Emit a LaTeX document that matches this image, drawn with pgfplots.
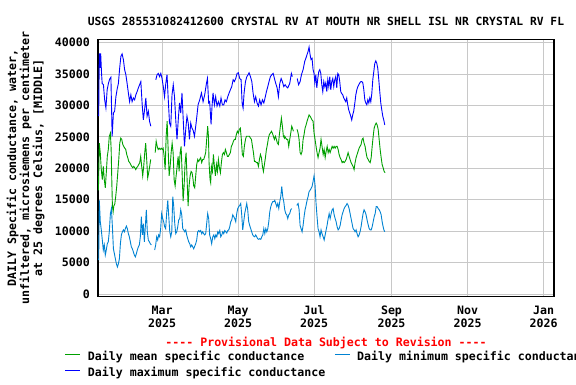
\documentclass[border=0pt]{standalone}
\usepackage{fontspec}
\setmainfont{DejaVu Sans Mono}
\usepackage{pgfplots}
\pgfplotsset{compat=1.18}
\definecolor{cmean}{RGB}{0,160,0}
\definecolor{cmin}{RGB}{0,130,210}
\definecolor{cmax}{RGB}{0,0,255}
\definecolor{gridc}{RGB}{200,200,200}
\newcommand{\f}{\fontsize{11.6pt}{13pt}\selectfont\bfseries}
\newcommand{\ft}{\fontsize{11.3pt}{13pt}\selectfont\bfseries}
\begin{document}
\begin{tikzpicture}[x=1pt,y=1pt]
\path[use as bounding box] (0,0) rectangle (576,384);
\begin{axis}[
 at={(98pt,87.5pt)}, anchor=south west,
 scale only axis, width=456pt, height=257pt,
 clip mode=individual,
 xmin=7.65, xmax=373.3, ymin=-400, ymax=40500,
 xtick={59,120,181,243,304,365},
 xticklabels={Mar\\2025,May\\2025,Jul\\2025,Sep\\2025,Nov\\2025,Jan\\2026},
 xticklabel style={align=center, font=\f, yshift=-6pt},
 ytick={0,5000,10000,15000,20000,25000,30000,35000,40000},
 yticklabel style={font=\f, inner xsep=0pt, xshift=-8pt},
 scaled y ticks=false,
 yticklabel={\pgfmathprintnumber[1000 sep={},assume math mode=true]{\tick}},
 grid=major, major grid style={gridc, line width=0.8pt},
 major tick length=0pt,
 axis line style={line width=1.4pt},
 unbounded coords=jump,
 ylabel={DAILY Specific conductance, water,\\unfiltered, microsiemens per centimeter\\at 25 degrees Celsius, [MIDDLE]},
 ylabel style={at={(axis description cs:-0.159,0.5)}, anchor=center, align=center, font=\f},
 legend style={at={(axis description cs:-0.0724,-0.216)}, anchor=north west, draw=none, fill=none, inner sep=0pt, outer sep=0pt, row sep=5pt, font=\f, nodes={inner xsep=0pt, inner ysep=0pt, text height=8.5pt, text depth=2.5pt}, /tikz/every odd column/.append style={column sep=7pt}, /tikz/every even column/.append style={column sep=9pt}},
 legend columns=2, legend cell align=left,
 legend image code/.code={\draw[#1] (0pt,3pt) -- (15pt,3pt);},
]
% Daily mean
\addplot[cmean, line width=0.9pt] coordinates {
(8.0,16500)(8.7,24000)(9.5,22400)(10.3,19800)(11.1,18200)(11.9,20300)(12.7,18200)(13.5,16900)(14.3,19300)(15.1,21900)(15.9,23000)(16.7,25100)(17.6,25600)(18.2,23000)(18.7,18200)(19.2,14000)(19.8,13100)(20.3,14000)(21.1,14300)(21.9,15600)(22.7,17200)(23.5,19300)(24.3,21400)(25.1,24000)(25.9,24800)(26.7,24600)(27.5,23800)(28.3,23500)(29.1,23200)(29.9,23000)(30.7,22200)(31.5,21700)(32.3,21100)(33.1,20900)(33.9,20600)(34.7,20300)(35.5,20100)(36.3,20300)(37.1,20100)(37.9,19800)(38.7,20100)(39.5,20300)(40.3,20600)(41.1,20900)(41.9,21900)(42.7,20300)(43.5,18800)(44.3,20300)(45.1,22400)(45.9,24000)(46.7,21400)(47.5,18500)(48.3,19300)(49.1,20300)(49.9,21400)(51.5,nan)
(53.5,22500)(54.3,24300)(55.1,23500)(55.9,23000)(56.7,23200)(57.5,23000)(58.3,23200)(59.1,23000)(59.9,23200)(60.7,21900)(61.5,19800)(62.3,25100)(63.1,27500)(63.9,23000)(64.7,18800)(65.5,20300)(66.3,22500)(67.1,24000)(67.9,22500)(68.7,18200)(69.5,17200)(70.3,18800)(71.1,20300)(71.9,21900)(72.7,19500)(73.5,22500)(74.3,23500)(75.1,19300)(75.9,14800)(76.7,17200)(77.5,20900)(78.3,22500)(79.1,18200)(79.9,14000)(80.7,17200)(81.5,18800)(82.3,19500)(83.1,19300)(83.9,18200)(84.4,17200)(85.2,16900)(86.0,18800)(86.8,20600)(87.6,21400)(88.4,21100)(89.2,21400)(90.0,21700)(90.8,20900)(91.6,21400)(92.4,21400)(93.2,21900)(94.0,22500)(94.8,24600)(95.6,26700)(96.2,25100)(96.7,20900)(97.5,18200)(98.0,17700)(98.6,20300)(99.4,19500)(100.2,22200)(101.0,20300)(101.8,18800)(102.6,20600)(103.4,19500)(104.2,21400)(105.0,20100)(105.8,19300)(106.6,20900)(107.4,22200)(108.2,22500)(109.0,22200)(109.8,23000)(110.6,22500)(111.4,21900)(112.2,21900)(113.0,22200)(113.8,22500)(114.6,23500)(115.4,23800)(116.2,24300)(117.0,24600)(117.8,24600)(118.6,25400)(119.4,25900)(120.2,25600)(121.0,26200)(121.8,26400)(122.6,24600)(123.4,22200)(124.2,21900)(125.0,23500)(125.9,24600)(126.7,25100)(127.5,25100)(128.3,25100)(129.1,25100)(129.9,24800)(130.7,24600)(131.5,23500)(132.3,22500)(133.1,21100)(133.9,21100)(134.7,20900)(135.5,20900)(136.3,20300)(137.1,21400)(137.9,22200)(138.7,21700)(139.5,20300)(140.3,19500)(141.1,20600)(141.9,21700)(142.7,23000)(143.5,23800)(144.3,24800)(145.1,25400)(145.9,25600)(146.7,25900)(147.5,25600)(148.3,25100)(149.1,24600)(149.9,25100)(150.7,24600)(151.5,24000)(152.3,23800)(153.1,25400)(153.9,26700)(154.7,28000)(155.5,26700)(156.3,25100)(157.1,24800)(157.4,25100)(158.2,24800)(159.0,24600)(159.8,24600)(160.6,23500)(161.4,24600)(162.2,25600)(163.0,26700)(163.6,26400)(164.3,25900)(165.5,nan)
(167.3,26200)(168.1,25600)(168.9,24600)(169.7,22500)(170.5,22200)(171.3,22700)(172.1,24600)(172.9,25400)(173.7,26400)(174.5,26900)(175.3,27500)(176.1,28000)(176.9,28500)(177.7,28300)(178.5,28000)(179.3,27700)(180.1,27500)(180.9,25600)(181.7,24600)(182.5,23500)(183.3,22500)(184.1,21700)(184.9,22500)(185.7,23200)(186.5,24600)(187.3,23500)(188.2,22200)(189.0,23000)(189.8,21700)(190.6,22700)(191.4,23500)(192.2,22500)(193.0,23000)(193.8,22500)(194.6,23000)(195.4,23500)(196.2,23200)(197.0,23500)(197.8,23200)(198.6,23500)(199.4,23500)(200.2,23000)(201.0,22200)(201.8,21700)(202.6,21400)(203.4,20900)(204.2,21100)(205.0,20900)(205.8,21100)(206.6,21400)(207.4,21900)(208.2,22500)(209.0,21900)(209.8,21400)(210.6,20900)(211.4,20600)(212.2,20300)(213.0,19800)(213.8,20900)(214.6,21700)(215.4,22200)(216.2,22700)(217.0,23200)(217.8,23500)(218.6,23800)(219.4,24600)(220.2,24800)(221.0,24000)(221.8,23500)(222.6,22500)(223.4,21700)(224.3,21400)(225.1,21100)(225.9,20900)(226.7,21700)(227.5,23500)(228.3,25100)(229.1,26400)(229.9,26900)(230.7,27200)(231.5,26900)(232.3,26200)(233.1,24600)(233.9,23000)(234.7,21700)(235.5,20600)(236.3,20100)(237.1,19500)(237.9,19300)
};
\addlegendentry{Daily mean specific conductance}
% Daily minimum
\addplot[cmin, line width=0.9pt] coordinates {
(8.2,5400)(8.7,14900)(9.5,11500)(10.3,10200)(11.1,8600)(11.9,7000)(12.7,7800)(13.5,6200)(14.3,7000)(15.1,8000)(15.9,8300)(16.7,9900)(17.6,12800)(18.4,13600)(19.2,10700)(20.0,7200)(20.8,6400)(21.6,5600)(22.4,4800)(23.2,4300)(24.0,4800)(24.8,5600)(25.6,8000)(26.4,9400)(27.2,9900)(28.0,10200)(28.8,9900)(29.6,10400)(30.4,10800)(31.2,10400)(32.0,9600)(32.8,9100)(33.6,8300)(34.4,7500)(35.2,7200)(36.0,6700)(36.8,6200)(37.6,5900)(38.4,6400)(39.2,7000)(40.0,7500)(40.8,7800)(41.6,9100)(42.4,12300)(43.2,9400)(44.0,11200)(44.8,8300)(45.6,10700)(46.4,13400)(47.2,9900)(48.0,8600)(48.8,8300)(49.6,8000)(50.4,7800)(51.5,nan)
(53.1,7000)(53.9,7800)(54.7,9100)(55.5,8600)(56.3,9400)(57.1,9100)(57.9,10400)(58.7,12800)(59.5,12000)(60.3,11500)(61.1,10700)(61.9,10400)(62.7,12800)(63.6,14900)(64.4,12300)(65.2,9900)(66.0,9100)(66.8,9900)(67.6,15500)(68.4,13900)(69.2,11200)(70.0,9600)(70.8,9900)(71.6,10700)(72.4,11800)(73.2,12000)(74.0,13400)(74.8,12600)(75.6,10400)(76.4,10200)(77.2,9900)(78.0,10200)(78.8,9400)(79.6,8800)(80.4,8300)(81.2,8000)(82.0,7500)(82.8,7800)(83.6,7500)(84.4,7200)(85.2,7600)(86.0,8000)(86.8,8600)(87.6,9900)(88.4,10100)(89.2,9900)(90.0,10100)(90.8,9600)(91.6,9900)(92.4,9600)(93.2,9400)(94.0,9600)(94.8,11200)(95.6,12800)(96.4,12000)(97.2,9400)(98.0,8800)(98.8,8000)(99.7,9100)(100.5,9400)(101.3,8800)(102.1,9400)(102.9,9100)(103.7,9900)(104.5,9600)(105.3,10100)(106.1,9100)(106.9,9400)(107.7,9900)(108.5,9600)(109.3,10100)(110.1,9900)(110.9,9700)(111.7,10100)(112.5,10200)(113.3,10700)(114.1,11500)(114.9,11800)(115.7,12600)(116.5,12300)(117.3,12000)(118.1,11500)(118.9,12800)(119.7,13600)(120.5,13900)(121.3,14100)(122.1,14400)(122.9,12600)(123.7,10200)(124.5,11500)(125.3,12800)(126.1,13600)(126.9,14400)(127.7,13400)(128.5,11500)(129.3,10900)(130.1,10400)(130.9,9900)(131.7,9400)(132.5,9200)(133.3,9100)(134.1,9400)(134.9,9100)(135.7,8800)(136.5,8700)(137.4,8800)(138.2,8700)(139.0,9100)(139.8,9400)(140.6,10400)(141.4,9600)(142.2,10400)(143.0,9900)(143.8,10400)(144.6,11500)(145.4,13100)(146.2,13900)(147.0,14400)(147.8,14700)(148.6,14700)(149.4,14900)(150.2,14400)(151.0,13900)(151.8,14400)(152.6,13600)(153.4,14700)(154.2,15500)(155.0,17100)(155.8,15500)(156.6,14700)(157.4,13400)(158.2,12800)(159.0,12600)(159.8,12000)(160.6,12600)(161.4,12800)(162.2,13400)(163.0,13600)(165.0,nan)
(167.0,14100)(168.1,14400)(168.9,13400)(169.7,10900)(170.5,10400)(171.3,9900)(172.1,10900)(172.9,12300)(173.7,13400)(174.5,14100)(175.3,14900)(176.1,15500)(176.9,16300)(177.7,16500)(178.5,16800)(179.3,17100)(180.1,17900)(180.9,18800)(181.7,17300)(182.5,14400)(183.3,12300)(184.1,10400)(184.9,9900)(185.7,9100)(186.5,10200)(187.3,9600)(188.2,9100)(189.0,8600)(189.8,9400)(190.6,10200)(191.4,11000)(192.2,12000)(193.0,12800)(193.8,12000)(194.6,12800)(195.4,13400)(196.2,13600)(197.0,12600)(197.8,12000)(198.6,11500)(199.4,10700)(200.2,10200)(201.0,10400)(201.8,10900)(202.6,11800)(203.4,12600)(204.2,13100)(205.0,13600)(205.8,13900)(206.6,14100)(207.4,14400)(208.2,14100)(209.0,13600)(209.8,12800)(210.6,12000)(211.4,11200)(212.2,10400)(213.0,10200)(213.8,9900)(214.6,10200)(215.4,9600)(216.2,9100)(217.0,9400)(217.8,9900)(218.6,10700)(219.4,11800)(220.2,12800)(221.0,13400)(221.8,13100)(222.6,12600)(223.4,11800)(224.3,11000)(225.1,10400)(225.9,10200)(226.7,10200)(227.5,10700)(228.3,11500)(229.1,12300)(229.9,12800)(230.7,13900)(231.5,13900)(232.3,13600)(233.1,13400)(233.9,13100)(234.7,12600)(235.5,11500)(236.3,10700)(236.9,10200)(237.6,9900)
};
\addlegendentry{Daily minimum specific conductance}
% Daily maximum
\addplot[cmax, line width=0.9pt] coordinates {
(8.2,28300)(8.7,38300)(9.3,36000)(9.8,38300)(10.5,35100)(11,33500)(12,33300)(13,30900)(14,29600)(15,32500)(16,33500)(17,34200)(18,34500)(19,25100)(20,28800)(21,29100)(22,31400)(23,32600)(24,33500)(25,35900)(26,37800)(27,38200)(28,37300)(29,35700)(30,34900)(31,33500)(32,32000)(33,30600)(34,31700)(35,30600)(36,31200)(37,30900)(38,31700)(39,32200)(40,32800)(41,33300)(42,33800)(43,30400)(44,27700)(45,29300)(46,31200)(47,28300)(48,29100)(49,27500)(50,26700)(51.5,nan)
(54,34100)(55,34900)(56,35100)(57,34600)(58,35100)(59,34300)(60,33000)(61,31400)(62,33500)(63,34900)(64,30900)(65,27200)(66,26700)(67,31700)(68,33300)(69,31400)(70,27700)(71,24600)(72,27700)(73,30400)(74,28800)(75,32000)(76,27700)(77,23500)(78,26200)(79,28300)(80,27200)(81,24600)(82,27200)(83,26400)(84,26000)(85,25100)(86.5,27500)(87.9,30100)(89.2,30900)(90.6,32000)(91.9,30600)(93.2,31700)(94.6,33500)(95.4,34300)(96.4,30400)(97.2,30600)(98.3,27000)(99.1,29900)(99.9,32000)(101,30100)(102,31400)(103.1,29900)(104.2,30600)(105.3,29900)(106.3,31200)(107.4,30100)(108.5,30100)(109.5,30900)(110.6,30600)(111.7,31400)(112.8,32000)(113.8,32500)(114.9,33000)(116,34100)(117,33800)(118.1,34300)(119.2,35100)(120.2,35200)(121.3,34300)(122.4,34100)(123.2,30400)(124,29600)(124.8,32000)(125.9,33800)(127,34600)(128,34900)(128.8,35200)(129.9,34600)(131,33800)(132,32000)(133.1,30600)(134.1,31400)(135.2,30400)(136.3,29900)(137.3,30900)(138.4,30100)(139.5,30900)(140.6,30400)(141.6,31200)(142.7,32200)(143.8,33000)(144.8,33800)(145.9,34600)(147,34900)(148.1,35100)(149.1,34300)(150.2,33500)(151.3,32800)(152.3,31400)(153.4,33500)(154.5,34300)(155.5,33800)(156.6,33000)(157.7,33300)(158.7,33000)(159.8,32800)(161.4,33500)(162.7,35100)(163.5,34600)(165.0,nan)
(167.4,34300)(168.5,33300)(169.7,33800)(170.8,34900)(172.1,35700)(173.4,37000)(174.3,37500)(175.3,38100)(176.1,38600)(176.9,39300)(177.7,38100)(178.5,37300)(179.3,37500)(180.1,35700)(180.9,35100)(181.5,33600)(182.3,34900)(183.1,32800)(183.9,34300)(184.7,35400)(185.5,35700)(186.3,35100)(187.1,33300)(187.9,32200)(188.7,33800)(189.5,33000)(190.3,33600)(191.1,32200)(191.9,34100)(192.7,33000)(193.5,34600)(194.3,32500)(195.1,33800)(195.9,34300)(196.7,33000)(197.5,34100)(198.3,34600)(199.1,32800)(199.9,35100)(200.7,34900)(201.5,33800)(202.3,32200)(203.1,31900)(203.9,31700)(204.7,31200)(205.5,30900)(206.3,30600)(207.1,31200)(207.9,30100)(208.7,29300)(209.5,28800)(210.3,28300)(211.1,27700)(211.9,28500)(212.7,29100)(213.6,30400)(214.4,31700)(215.2,32500)(216,33000)(216.8,33300)(217.6,33600)(218.4,33800)(219.2,33800)(220,33600)(220.8,32500)(221.6,30900)(222.4,30400)(223.2,30100)(224,30900)(224.8,30400)(225.6,31200)(226.4,30600)(227.2,31900)(228,34100)(228.8,35400)(229.6,36700)(230.4,37100)(231.2,36700)(232,35900)(232.8,34100)(233.6,32200)(234.4,30400)(235.2,29300)(236,28300)(236.8,27700)(237.6,26900)
};
\addlegendentry{Daily maximum specific conductance}
\node[anchor=base, font=\ft] at (rel axis cs:0.5,1.0564) {USGS 285531082412600 CRYSTAL RV AT MOUTH NR SHELL ISL NR CRYSTAL RV FL};
\node[anchor=base, font=\f, text=red] at (rel axis cs:0.5,-0.1946) {-{}-{}-{}- Provisional Data Subject to Revision -{}-{}-{}-};
\end{axis}
\end{tikzpicture}
\end{document}
